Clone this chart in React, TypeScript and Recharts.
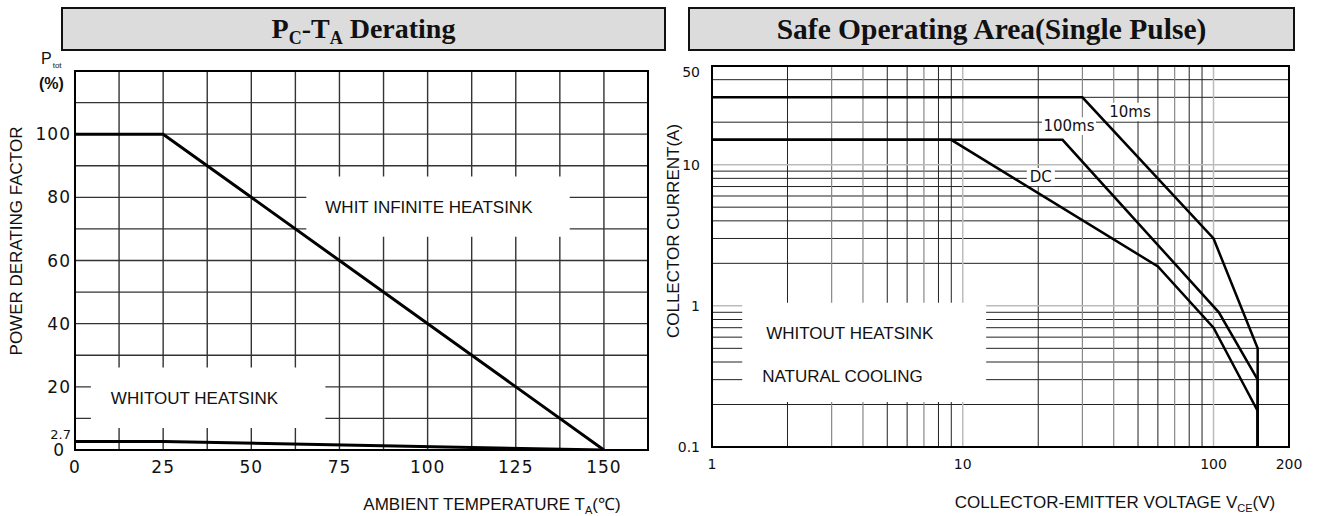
import { LineChart, Line, XAxis, YAxis, CartesianGrid, ReferenceArea, Label } from "recharts"

const sans = "'Liberation Sans', Arial, sans-serif"
const tickFont = "'DejaVu Sans', Verdana, sans-serif"
const serif = "'Liberation Serif', 'Times New Roman', serif"

// PC-TA derating
const tempPoints = [0, 25, 150]
const withHeatsink = [100, 100, 0]
const withoutHeatsink = [2.7, 2.7, 0]
const tempTicks = [0, 25, 50, 75, 100, 125, 150]
const pctTicks = [0, 2.7, 20, 40, 60, 80, 100]
const tempGrid = [12.5, 25, 37.5, 50, 62.5, 75, 87.5, 100, 112.5, 125, 137.5, 150]
const pctGrid = [10, 20, 30, 40, 50, 60, 70, 80, 90, 100, 110]

// safe operating area, single pulse
const v10ms = [1, 30, 100, 150, 150]
const i10ms = [30, 30, 3, 0.5, 0.1]
const v100ms = [1, 25, 105, 150, 150]
const i100ms = [15, 15, 0.9, 0.3, 0.1]
const vDC = [1, 9, 60, 100, 150, 150]
const iDC = [15, 15, 1.9, 0.7, 0.18, 0.1]
const voltTicks = [1, 10, 100, 200]
const ampTicks = [0.1, 1, 10, 50]
const voltGridDark = [2, 5, 6, 8, 9, 20, 50, 60, 80, 90]
const voltGridGray = [3, 4, 7, 30, 40, 70]
const voltGridLight = [10, 100]
const ampGrid = [0.2, 0.3, 0.4, 0.5, 0.6, 0.7, 0.8, 0.9, 2, 3, 4, 5, 6, 7, 8, 9, 20, 30, 40]
const ampGridLight = [1, 10]

const zip = (xs: number[], ys: number[]) => xs.map((x, i) => ({ x, y: ys[i] }))

const TempTick = ({ x, y, payload }: any) => (
  <text x={x} y={y + 23} textAnchor="middle" fontFamily={tickFont} fontSize={17} letterSpacing={1} fill="#111">
    {payload.value}
  </text>
)

const PctTick = ({ x, y, payload }: any) => {
  const small = payload.value === 2.7
  return (
    <text
      x={x}
      y={y + (small ? -2 : 6)}
      dx={payload.value === 0 ? -6 : 0}
      textAnchor="end"
      fontFamily={tickFont}
      fontSize={small ? 13 : 17}
      letterSpacing={small ? 0 : 1}
      fill="#111"
    >
      {payload.value}
    </text>
  )
}

const VoltTick = ({ x, y, payload }: any) => (
  <text x={x} y={y + 22} textAnchor="middle" fontFamily={tickFont} fontSize={14} fill="#111">
    {payload.value}
  </text>
)

const AmpTick = ({ x, y, payload }: any) => (
  <text x={x} y={y + (payload.value === 50 ? 11 : 5)} textAnchor="end" fontFamily={tickFont} fontSize={14} fill="#111">
    {payload.value}
  </text>
)

const boxLabel = { fill: "#111", fontSize: 17, fontFamily: sans }
const curveLabel = { fill: "#111", fontSize: 15, fontFamily: tickFont }

function DeratingChart() {
  return (
    <LineChart width={660} height={516} margin={{ top: 71, right: 12, bottom: 36, left: 0 }}>
      <CartesianGrid verticalValues={tempGrid} horizontalValues={pctGrid} stroke="#333" strokeWidth={1.4} />
      <XAxis type="number" dataKey="x" domain={[0, 162.5]} ticks={tempTicks} interval={0} tick={TempTick}
        tickSize={0} tickMargin={0} axisLine={false} tickLine={false} height={30} allowDataOverflow />
      <YAxis type="number" domain={[0, 120]} ticks={pctTicks} interval={0} tick={PctTick}
        tickSize={0} tickMargin={4} axisLine={false} tickLine={false} width={75} allowDataOverflow />

      {/* white label boxes */}
      <ReferenceArea x1={65.6} x2={140.3} y1={67.5} y2={86.6} fill="#fff" fillOpacity={1} stroke="none"
        label={{ value: "WHIT INFINITE HEATSINK", position: "insideLeft", offset: 19, ...boxLabel }} />
      <ReferenceArea x1={4.5} x2={71} y1={7} y2={26.1} fill="#fff" fillOpacity={1} stroke="none"
        label={{ value: "WHITOUT HEATSINK", position: "insideLeft", offset: 20, ...boxLabel }} />

      <Line data={zip(tempPoints, withHeatsink)} dataKey="y" type="linear" stroke="#000" strokeWidth={3} dot={false} isAnimationActive={false} />
      <Line data={zip(tempPoints, withoutHeatsink)} dataKey="y" type="linear" stroke="#000" strokeWidth={3} dot={false} isAnimationActive={false} />

      {/* frame */}
      <ReferenceArea x1={0} x2={162.5} y1={0} y2={120} fill="none" stroke="#000" strokeWidth={2} ifOverflow="visible" />
    </LineChart>
  )
}

function SoaChart() {
  return (
    <LineChart width={658} height={516} margin={{ top: 66, right: 29, bottom: 39, left: 0 }}>
      <CartesianGrid horizontalValues={ampGrid} verticalValues={voltGridDark} stroke="#222" strokeWidth={1} />
      <CartesianGrid horizontal={false} verticalValues={voltGridGray} stroke="#888" strokeWidth={1.2} />
      <CartesianGrid horizontalValues={ampGridLight} verticalValues={voltGridLight} stroke="#bbb" strokeWidth={1.5} />
      <XAxis type="number" dataKey="x" scale="log" domain={[1, 200]} ticks={voltTicks} interval={0} tick={VoltTick}
        tickSize={0} tickMargin={0} axisLine={false} tickLine={false} height={30} allowDataOverflow />
      <YAxis type="number" scale="log" domain={[0.1, 50]} ticks={ampTicks} interval={0} tick={AmpTick}
        tickSize={0} tickMargin={12} axisLine={false} tickLine={false} width={52} allowDataOverflow />

      {/* white label boxes */}
      <ReferenceArea x1={1.32} x2={12.4} y1={0.208} y2={1.05} fill="#fff" fillOpacity={1} stroke="none">
        <Label value="WHITOUT HEATSINK" position="insideTopLeft" offset={24} {...boxLabel} />
        <Label value="NATURAL COOLING" position="insideBottomLeft" offset={20} {...boxLabel} />
      </ReferenceArea>
      <ReferenceArea x1={37.5} x2={57.5} y1={20.3} y2={27.5} fill="#fff" fillOpacity={1} stroke="none"
        label={{ value: "10ms", position: "center", ...curveLabel }} />
      <ReferenceArea x1={20.7} x2={34} y1={16.2} y2={21.7} fill="#fff" fillOpacity={1} stroke="none"
        label={{ value: "100ms", position: "center", ...curveLabel }} />
      <ReferenceArea x1={18} x2={23.3} y1={7.05} y2={9.46} fill="#fff" fillOpacity={1} stroke="none"
        label={{ value: "DC", position: "center", ...curveLabel }} />

      <Line data={zip(v10ms, i10ms)} dataKey="y" type="linear" stroke="#000" strokeWidth={2.5} dot={false} isAnimationActive={false} />
      <Line data={zip(v100ms, i100ms)} dataKey="y" type="linear" stroke="#000" strokeWidth={2.5} dot={false} isAnimationActive={false} />
      <Line data={zip(vDC, iDC)} dataKey="y" type="linear" stroke="#000" strokeWidth={2.5} dot={false} isAnimationActive={false} />

      {/* frame */}
      <ReferenceArea x1={1} x2={200} y1={0.1} y2={50} fill="none" stroke="#000" strokeWidth={2} ifOverflow="visible" />
    </LineChart>
  )
}

const titleBox = {
  position: "absolute" as const,
  top: 7,
  height: 44,
  boxSizing: "border-box" as const,
  border: "2px solid #111",
  background: "#dcdcdc",
  display: "flex",
  alignItems: "center",
  justifyContent: "center",
  fontFamily: serif,
  fontWeight: 700,
  color: "#111",
}

const sub = { fontSize: 18, position: "relative" as const, top: 6 }

const axisTitle = {
  position: "absolute" as const,
  fontFamily: sans,
  fontSize: 17,
  color: "#111",
  whiteSpace: "nowrap" as const,
}

export default function App() {
  return (
    <div style={{ position: "relative", width: 1318, height: 516, background: "#fff", overflow: "hidden" }}>
      <style>{"body{margin:0}"}</style>

      <div style={{ position: "absolute", left: 0, top: 0 }}>
        <DeratingChart />
      </div>
      <div style={{ position: "absolute", left: 660, top: 0 }}>
        <SoaChart />
      </div>

      {/* titles */}
      <div style={{ ...titleBox, left: 61, width: 605, fontSize: 28 }}>
        <span>P<span style={sub}>C</span>-T<span style={sub}>A</span> Derating</span>
      </div>
      <div style={{ ...titleBox, left: 688, width: 607, fontSize: 29.5 }}>Safe Operating Area(Single Pulse)</div>

      {/* unit label */}
      <div style={{ position: "absolute", left: 41, top: 50, fontFamily: sans, fontSize: 16, color: "#111" }}>
        P<span style={{ fontSize: 8, position: "relative", top: 4, marginLeft: 1 }}>tot</span>
      </div>
      <div style={{ position: "absolute", left: 39, top: 75, fontFamily: sans, fontSize: 16, fontWeight: 700, color: "#111" }}>(%)</div>

      {/* axis titles */}
      <div style={{ ...axisTitle, left: 17, top: 241, transform: "translate(-50%, -50%) rotate(-90deg)" }}>
        POWER DERATING FACTOR
      </div>
      <div style={{ ...axisTitle, left: 492, top: 503, transform: "translate(-50%, -50%)" }}>
        AMBIENT TEMPERATURE T<span style={{ fontSize: 11, position: "relative", top: 4 }}>A</span>(℃)
      </div>
      <div style={{ ...axisTitle, left: 674, top: 231, transform: "translate(-50%, -50%) rotate(-90deg)" }}>
        COLLECTOR CURRENT(A)
      </div>
      <div style={{ ...axisTitle, left: 1115, top: 503, transform: "translate(-50%, -50%)" }}>
        COLLECTOR-EMITTER VOLTAGE V<span style={{ fontSize: 11, position: "relative", top: 4 }}>CE</span>(V)
      </div>
    </div>
  )
}
